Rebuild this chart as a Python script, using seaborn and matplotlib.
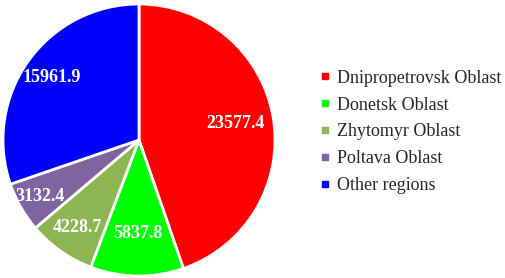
import matplotlib
matplotlib.use('Agg')
import matplotlib.pyplot as plt
from matplotlib.lines import Line2D
import seaborn as sns
import numpy as np

regions = ['Dnipropetrovsk Oblast', 'Donetsk Oblast', 'Zhytomyr Oblast', 'Poltava Oblast', 'Other regions']
values = [23577.4, 5837.8, 4228.7, 3132.4, 15961.9]
colors = ['#FF0000', '#00FF00', '#8DB552', '#8064A2', '#0000FF']

sns.set_theme(style='white')
plt.rcParams['font.family'] = ['Liberation Serif', 'DejaVu Serif']

fig = plt.figure(figsize=(5.05, 2.78), dpi=100)
ax = fig.add_axes([3 / 505, 2 / 278, 272 / 505, 272 / 278])

wedges, _ = ax.pie(values, colors=colors, startangle=90, counterclock=False,
                   radius=1, wedgeprops={'edgecolor': 'white', 'linewidth': 2})
ax.set_xlim(-1, 1)
ax.set_ylim(-1, 1)
ax.set_aspect('equal')
ax.axis('off')

# label distance per slice
dists = [0.72, 0.69, 0.79, 0.84, 0.79]
for w, v, d in zip(wedges, values, dists):
    ang = np.deg2rad((w.theta1 + w.theta2) / 2)
    ax.text(d * np.cos(ang), d * np.sin(ang), f'{v:.1f}', ha='center', va='center',
            color='white', fontsize=13, fontweight='bold')

handles = [Line2D([], [], marker='s', linestyle='', color=c, markersize=5) for c in colors]
fig.legend(handles, regions, loc='center left', bbox_to_anchor=(320 / 505, 1 - 132 / 278),
           frameon=False, fontsize=13, handletextpad=0.35, labelspacing=0.55,
           handlelength=0.6, borderaxespad=0, borderpad=0)

fig.savefig('out.png', dpi=100)
